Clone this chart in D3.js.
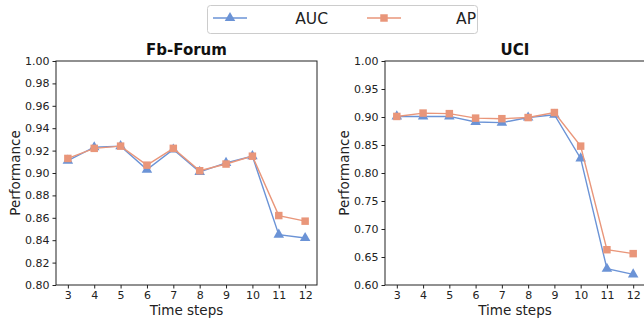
<!DOCTYPE html>
<html>
<head>
<meta charset="utf-8" />
<script src="https://cdn.jsdelivr.net/npm/d3@7"></script>
<style>
  body { margin: 0; background: #fff; }
  text { font-family: "DejaVu Sans", sans-serif; fill: #222; }
  .tick text { font-size: 11px; }
  .axlabel { font-size: 13.5px; }
  .title { font-size: 15px; font-weight: bold; fill: #111; }
</style>
</head>
<body>
<script>
var width = 644, height = 322;

var steps = [3, 4, 5, 6, 7, 8, 9, 10, 11, 12];
var seriesNames = ["AUC", "AP"];
var colors = ["#6b93d6", "#e9967a"];

var fbAUC = [0.911, 0.923, 0.924, 0.903, 0.921, 0.901, 0.909, 0.915, 0.845, 0.842];
var fbAP  = [0.913, 0.922, 0.924, 0.907, 0.922, 0.902, 0.908, 0.915, 0.862, 0.857];
var uciAUC = [0.901, 0.901, 0.901, 0.891, 0.890, 0.899, 0.904, 0.826, 0.629, 0.619];
var uciAP  = [0.901, 0.907, 0.906, 0.898, 0.897, 0.899, 0.908, 0.848, 0.663, 0.656];

var fbTicks = [0.80, 0.82, 0.84, 0.86, 0.88, 0.90, 0.92, 0.94, 0.96, 0.98, 1.00];
var uciTicks = [0.60, 0.65, 0.70, 0.75, 0.80, 0.85, 0.90, 0.95, 1.00];

var svg = d3.select("body").append("svg")
    .attr("width", width)
    .attr("height", height);

var panels = [
  { title: "Fb-Forum", left: 56, right: 317, ymin: 0.80, ymax: 1.00, ticks: fbTicks, data: [fbAUC, fbAP] },
  { title: "UCI", left: 385, right: 645, ymin: 0.60, ymax: 1.00, ticks: uciTicks, data: [uciAUC, uciAP] }
];
var plotTop = 61, plotBottom = 285;
var symbols = [d3.symbol().type(d3.symbolTriangle).size(48), d3.symbol().type(d3.symbolSquare).size(56)];

panels.forEach(function(p) {
  var pad = (12 - 3) * 0.05;
  var x = d3.scaleLinear().domain([3 - pad, 12 + pad]).range([p.left, p.right]);
  var y = d3.scaleLinear().domain([p.ymin, p.ymax]).range([plotBottom, plotTop]);
  var g = svg.append("g");

  // frame
  g.append("rect")
    .attr("x", p.left).attr("y", plotTop)
    .attr("width", p.right - p.left).attr("height", plotBottom - plotTop)
    .attr("fill", "none").attr("stroke", "#222").attr("stroke-width", 1);

  g.append("g")
    .attr("transform", "translate(0," + plotBottom + ")")
    .call(d3.axisBottom(x).tickValues(steps).tickSize(3.5).tickSizeOuter(0).tickPadding(3))
    .call(function(s) { s.select(".domain").remove(); s.selectAll(".tick line").attr("stroke", "#222"); });

  g.append("g")
    .attr("transform", "translate(" + p.left + ",0)")
    .call(d3.axisLeft(y).tickValues(p.ticks).tickFormat(d3.format(".2f")).tickSize(3.5).tickSizeOuter(0).tickPadding(3))
    .call(function(s) { s.select(".domain").remove(); s.selectAll(".tick line").attr("stroke", "#222"); });

  g.append("text").attr("class", "title")
    .attr("x", (p.left + p.right) / 2).attr("y", 55)
    .attr("text-anchor", "middle").text(p.title);

  g.append("text").attr("class", "axlabel")
    .attr("x", (p.left + p.right) / 2).attr("y", 315)
    .attr("text-anchor", "middle").text("Time steps");

  g.append("text").attr("class", "axlabel")
    .attr("transform", "translate(" + (p.left - 36) + "," + ((plotTop + plotBottom) / 2) + ") rotate(-90)")
    .attr("text-anchor", "middle").text("Performance");

  var line = d3.line()
    .x(function(d, i) { return x(steps[i]); })
    .y(function(d) { return y(d); });

  p.data.forEach(function(vals, si) {
    g.append("path").datum(vals)
      .attr("d", line)
      .attr("fill", "none").attr("stroke", colors[si]).attr("stroke-width", 1.4);
    g.selectAll(null).data(vals).enter().append("path")
      .attr("d", symbols[si])
      .attr("transform", function(d, i) { return "translate(" + x(steps[i]) + "," + y(d) + ")"; })
      .attr("fill", colors[si]);
  });
});

// legend
var leg = svg.append("g");
leg.append("rect")
  .attr("x", 207.5).attr("y", 5.5).attr("width", 270).attr("height", 28)
  .attr("rx", 3).attr("fill", "#fff").attr("stroke", "#ccc");
var legPos = [{ lx: 213, tx: 328 }, { lx: 367, tx: 476 }];
seriesNames.forEach(function(name, si) {
  var lp = legPos[si];
  leg.append("line")
    .attr("x1", lp.lx).attr("x2", lp.lx + 34).attr("y1", 18).attr("y2", 18)
    .attr("stroke", colors[si]).attr("stroke-width", 1.4);
  leg.append("path")
    .attr("d", symbols[si])
    .attr("transform", "translate(" + (lp.lx + 17) + ",18)")
    .attr("fill", colors[si]);
  leg.append("text")
    .attr("x", lp.tx).attr("y", 24)
    .attr("text-anchor", "end")
    .style("font-size", "15.5px")
    .text(name);
});
</script>
</body>
</html>
